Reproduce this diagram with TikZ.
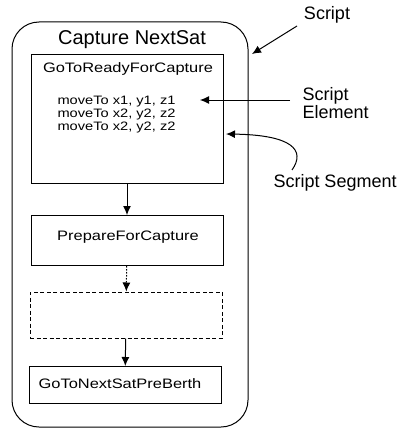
\documentclass[tikz,border=0pt]{standalone}
\usepackage{fontspec}
\setmainfont{Liberation Sans}
\newfontfamily\boxfont{Liberation Sans}[FakeStretch=1.2]
\usetikzlibrary{arrows.meta}

\begin{document}
\begin{tikzpicture}[x=1pt,y=-1pt,line width=1pt,
    >={Latex[length=9pt,width=8pt]},
    seg/.style={draw,minimum width=192pt,inner sep=0pt},
    segtext/.style={anchor=base,inner sep=0pt,font=\boxfont\fontsize{13.7}{16}\selectfont},
    lbl/.style={inner sep=0pt,align=left,font=\fontsize{18}{15}\selectfont}]
    \useasboundingbox (0,0) rectangle (403,428);
    % the script and its segments
    \node[draw,rounded corners=27pt,minimum width=236pt,minimum height=405pt] (script) at (130,224.5) {};
    \node[anchor=base,inner sep=0pt,font=\fontsize{20}{24}\selectfont] (title) at (132,45) {Capture NextSat};
    \node[seg,minimum height=128pt] (ready) at (127,119) {};
    \node[segtext] (readyname) at (128,72) {GoToReadyForCapture};
    \node[anchor=base west,inner sep=0pt,align=left,font=\boxfont\fontsize{12.2}{13}\selectfont] (moves) at (57,130)
        {moveTo x1, y1, z1\\moveTo x2, y2, z2\\moveTo x2, y2, z2};
    \node[seg,minimum height=50pt] (prep) at (127,240.5) {};
    \node[segtext] (prepname) at (128,240) {PrepareForCapture};
    \node[seg,minimum height=46pt,dash pattern=on 4pt off 2.5pt] (blank) at (126,315) {};
    \node[seg,minimum height=37pt] (berth) at (125,385) {};
    \node[segtext] (berthname) at (120,388) {GoToNextSatPreBerth};
    \draw[->] (ready) -- (prep);
    \draw[->,dash pattern=on 1.5pt off 1.5pt] (prep) -- (blank);
    \draw[->] (blank) -- (berth);
    % labels on the right
    \node[lbl,anchor=base] (scriptlbl) at (327,20) {Script};
    \node[lbl,anchor=base west] (elemlbl) at (302,118) {Script\\Element};
    \node[lbl,anchor=base west] (seglbl) at (273,187) {Script Segment};
    \coordinate (scripttail) at (297,26);
    \coordinate (scripttip) at (252,54);
    \coordinate (elemtail) at (290,100);
    \coordinate (elemtip) at (200,100);
    \coordinate (segtail) at (292,170);
    \coordinate (segtip) at (226,134);
    \draw[->] (scripttail) -- (scripttip);
    \draw[->] (elemtail) -- (elemtip);
    \draw[->] (segtail) .. controls (306,150) and (292,135) .. (segtip);
\end{tikzpicture}
\end{document}
